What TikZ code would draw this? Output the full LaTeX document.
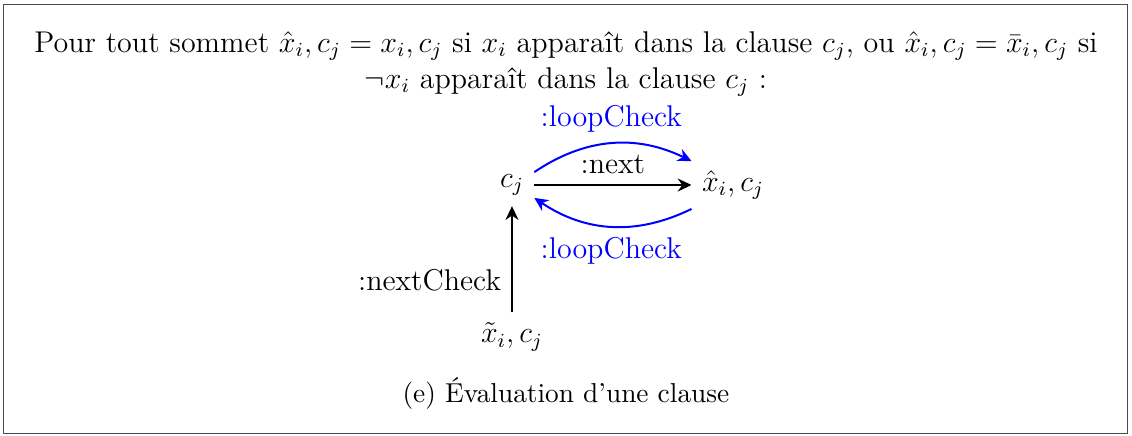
\documentclass[12pt,tikz,border=0pt]{standalone}
\usetikzlibrary{arrows.meta}
\begin{document}
\begin{tikzpicture}[
  nextarrow/.style={->,thick},
  checkarrow/.style={->,thick,blue},
  >={Stealth[length=5.5pt,width=5.2pt,inset=1.8pt]}
]
\useasboundingbox (0,0) rectangle (15.915,-6.116);
\draw[black!70] (0.056,-0.063) rectangle (15.858,-6.088);

\node[align=center] (intro) at (7.957,-0.9) {Pour tout sommet $\hat{x}_i,c_j=x_i,c_j$ si $x_i$ apparaît dans la clause $c_j$, ou $\hat{x}_i,c_j=\bar{x}_i,c_j$ si\\ $\neg x_i$ apparaît dans la clause $c_j$ :};

\node (cj) at (7.198,-2.601) {$c_j$};
\node (xhat) at (10.305,-2.601) {$\hat{x}_i,c_j$};
\node (xtilde) at (7.198,-4.738) {$\tilde{x}_i,c_j$};

\draw[nextarrow] (cj) -- node[above] {:next} (xhat);
\draw[checkarrow] (cj) to[bend left] node[above] {:loopCheck} (xhat);
\draw[checkarrow] (xhat) to[bend left] node[below] {:loopCheck} (cj);
\draw[nextarrow] (xtilde) -- node[left,pos=0.3] {:nextCheck} (cj);

\node[font=\small] (caption) at (7.957,-5.525) {(e) Évaluation d'une clause};
\end{tikzpicture}
\end{document}
